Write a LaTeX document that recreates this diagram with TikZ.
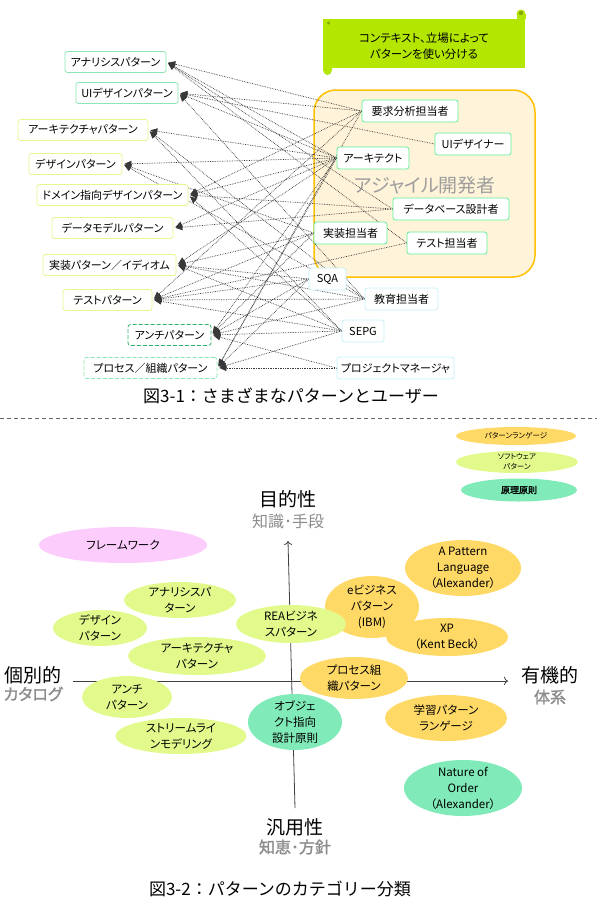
\documentclass[tikz,border=0pt]{standalone}
\usepackage{fontspec}
\setmainfont{Noto Sans CJK JP}[RawFeature=+palt]
\newfontfamily\capfont{Noto Sans CJK JP}
\newfontfamily\boldjp{Noto Sans CJK JP}[RawFeature=+palt,FakeBold=1.6]
\usetikzlibrary{arrows.meta,shapes.geometric}
\definecolor{mintb}{HTML}{8CE6B4}
\definecolor{limeb}{HTML}{E6F78C}
\definecolor{antib}{HTML}{2DB464}
\definecolor{roleb}{HTML}{5EF09C}
\definecolor{cyanb}{HTML}{C4F2F8}
\definecolor{agfill}{HTML}{FFF3D9}
\definecolor{agline}{HTML}{FFC000}
\definecolor{notef}{HTML}{B3E600}
\definecolor{orng}{HTML}{FFD966}
\definecolor{lime}{HTML}{E2FA8C}
\definecolor{mint}{HTML}{80EAB8}
\definecolor{pink}{HTML}{FCCCFC}
\definecolor{subg}{HTML}{8C8C8C}
\pgfdeclarelayer{back}
\pgfdeclarelayer{mid}
\pgfsetlayers{back,mid,main}
\tikzset{
  >={Triangle[length=7pt,width=6pt]},
  pat/.style={rectangle,rounded corners=2.5pt,draw,fill=white,line width=0.8pt,minimum height=21pt,inner xsep=4pt,font=\fontsize{11}{13}\selectfont},
  pmint/.style={draw=mintb},
  plime/.style={draw=limeb},
  pdash/.style={draw=antib,dash pattern=on 4pt off 2pt},
  pdashm/.style={draw=mintb,dash pattern=on 4pt off 2pt},
  role/.style={pat,minimum height=22pt},
  ln/.style={->,densely dotted,line width=0.7pt,draw=black!78,shorten >=2pt},
  ell/.style={ellipse,inner sep=0pt,draw=none},
  lbl/.style={align=center,inner sep=0pt,font=\fontsize{11.5}{16}\selectfont},
  ax/.style={line width=0.8pt,draw=black!75,-{To[length=4pt,width=8pt]}},
  big/.style={font=\fontsize{19}{22}\selectfont},
  subl/.style={text=subg,font=\fontsize{16}{18}\selectfont},
  subb/.style={text=subg,font=\boldjp\fontsize{16}{18}\selectfont},
  capt/.style={font=\capfont\fontsize{17}{19}\selectfont},
  agbox/.style={rectangle,rounded corners=22pt,draw=agline,fill=agfill,line width=1.5pt},
  sepl/.style={draw=black!60,line width=0.8pt,dash pattern=on 4pt off 3pt},
}
\begin{document}
\begin{tikzpicture}[x=1pt,y=-1pt]
\useasboundingbox (0,0) rectangle (597,905);
\fill[notef] (323,19) rectangle (525,68);
\fill[notef] (521,14) circle (4.5);
\fill[notef] (516.5,14) rectangle (525.5,19);
\fill[notef] (327.5,71) circle (4);
\fill[notef] (323,66) rectangle (331.5,71);
\fill[notef!75!black] (521,13) circle (2.2);
\fill[notef!75!black] (328.5,23) circle (1.6);
\node[align=center,font=\fontsize{11.5}{16}\selectfont] (note) at (424,46) {コンテキスト、立場によって\\パターンを使い分ける};
\begin{pgfonlayer}{back}
\node[agbox,minimum width=221pt,minimum height=187pt] (agile) at (424.5,183.5) {};
\node[text=black!38,font=\fontsize{19}{22}\selectfont] (agtxt) at (425,185) {アジャイル開発者};
\end{pgfonlayer}
\foreach \n/\x/\y/\w/\s/\t in {ana/115.5/62/101/pmint/アナリシスパターン,ui/127/93/102/pmint/UIデザインパターン,
  arch/83/130/130/plime/アーキテクチャパターン,des/75.5/164/93/plime/デザインパターン,
  dom/112.5/195/151/plime/ドメイン指向デザインパターン,dm/112.5/228/121/plime/データモデルパターン,
  impl/109.5/265/133/plime/実装パターン／イディオム,test/107.5/300/89/plime/テストパターン,
  anti/169.5/335/83/pdash/アンチパターン,proc/150.5/368/133/pdashm/プロセス／組織パターン}{
  \node[pat,\s,minimum width=\w pt] (\n) at (\x,\y) {\t};}
\foreach \n/\x/\y/\w/\c/\t in {req/410/111/96/roleb/要求分析担当者,uid/473/144/76/roleb/UIデザイナー,
  arc/373/158/72/roleb/アーキテクト,dbd/451/209/116/roleb/データベース設計者,
  imp/350.5/233/73/roleb/実装担当者,tst/447/243/80/roleb/テスト担当者,
  sqa/327.5/279/37/cyanb/SQA,edu/401.5/299/73/cyanb/教育担当者,
  sepg/363/331/42/cyanb/SEPG,pm/395.5/368/115/cyanb/プロジェクトマネージャ}{
  \node[role,draw=\c,minimum width=\w pt] (\n) at (\x,\y) {\t};}
\begin{pgfonlayer}{mid}
\foreach \p/\r in {ana/req,ana/arc,ana/dbd,ana/tst,ui/req,ui/uid,ui/arc,ui/edu,
  arch/arc,arch/sepg,arch/edu,des/arc,des/imp,des/edu,dom/req,dom/arc,dom/dbd,dom/sepg,
  dm/dbd,dm/arc,impl/arc,impl/imp,impl/sqa,impl/edu,impl/sepg,
  test/req,test/tst,test/imp,test/sqa,test/edu,test/sepg,
  anti/arc,anti/imp,anti/sqa,anti/edu,anti/sepg,anti/pm,
  proc/req,proc/arc,proc/sqa,proc/sepg,proc/pm}{
  \draw[ln] (\r.west) -- (\p.east);}
\end{pgfonlayer}
\node[capt] (cap1) at (291,396) {図3-1：さまざまなパターンとユーザー};
\draw[sepl] (0,418) -- (597,418);
\node[ell,fill=orng,minimum width=120pt,minimum height=18pt] (lgpl) at (516,436) {};
\node[font=\fontsize{7.5}{9}\selectfont] at (lgpl) {パターンランゲージ};
\node[ell,fill=lime,minimum width=122pt,minimum height=22pt] (lgsw) at (517,462) {};
\node[align=center,inner sep=0pt,font=\fontsize{7.5}{10}\selectfont] at (lgsw) {ソフトウェア\\パターン};
\node[ell,fill=mint,minimum width=116pt,minimum height=23pt] (lgpr) at (519,490) {};
\node[font=\boldjp\fontsize{9}{11}\selectfont] at (lgpr) {原理原則};
\coordinate (ybot) at (295,808);
\coordinate (ytop) at (288,541);
\coordinate (xl) at (73,681);
\coordinate (xr) at (508,681);
\draw[ax] (ybot) -- (ytop);
\draw[ax] (xl) -- (xr);
\node[big] (purp) at (288,499) {目的性};
\node[subl] (purps) at (288,521) {知識･手段};
\node[big] (gen) at (295,827) {汎用性};
\node[subb] (gens) at (295,847) {知恵･方針};
\node[big] (indiv) at (33,675) {個別的};
\node[subb] (indivs) at (33,694) {カタログ};
\node[big] (orgn) at (550,675) {有機的};
\node[subb] (orgs) at (550,697) {体系};
\foreach \n/\x/\y/\w/\h/\c/\t in {fw/123/545/168/36/pink/フレームワーク,
  anp/180/600/112/36/lime/アナリシスパ\\ターン,dsp/100/628/94/36/lime/デザイン\\パターン,
  arp/197/656/138/38/lime/アーキテクチャ\\パターン,atp/127/697/90/42/lime/アンチ\\パターン,
  slm/181/736/131/36/lime/ストリームライ\\ンモデリング,ebp/372/607/94/62/orng/eビジネス\\パターン\\(IBM),
  rea/291/624/110/38/lime/REAビジネ\\スパターン,apl/463/568/116/56/orng/A Pattern\\Language\\（Alexander）,
  xp/447/637/122/38/orng/XP\\（Kent Beck）,pop/354/678/108/42/orng/プロセス組\\織パターン,
  ood/295/722/94/56/mint/オブジェ\\クト指向\\設計原則,lpl/446/718/122/46/orng/学習パターン\\ランゲージ,
  noo/463/788/118/56/mint/Nature of\\Order\\（Alexander）}{
  \node[ell,fill=\c,minimum width=\w pt,minimum height=\h pt,label={[lbl]center:\t}] (\n) at (\x,\y) {};}
\node[capt] (cap2) at (280,889) {図3-2：パターンのカテゴリー分類};
\end{tikzpicture}
\end{document}
